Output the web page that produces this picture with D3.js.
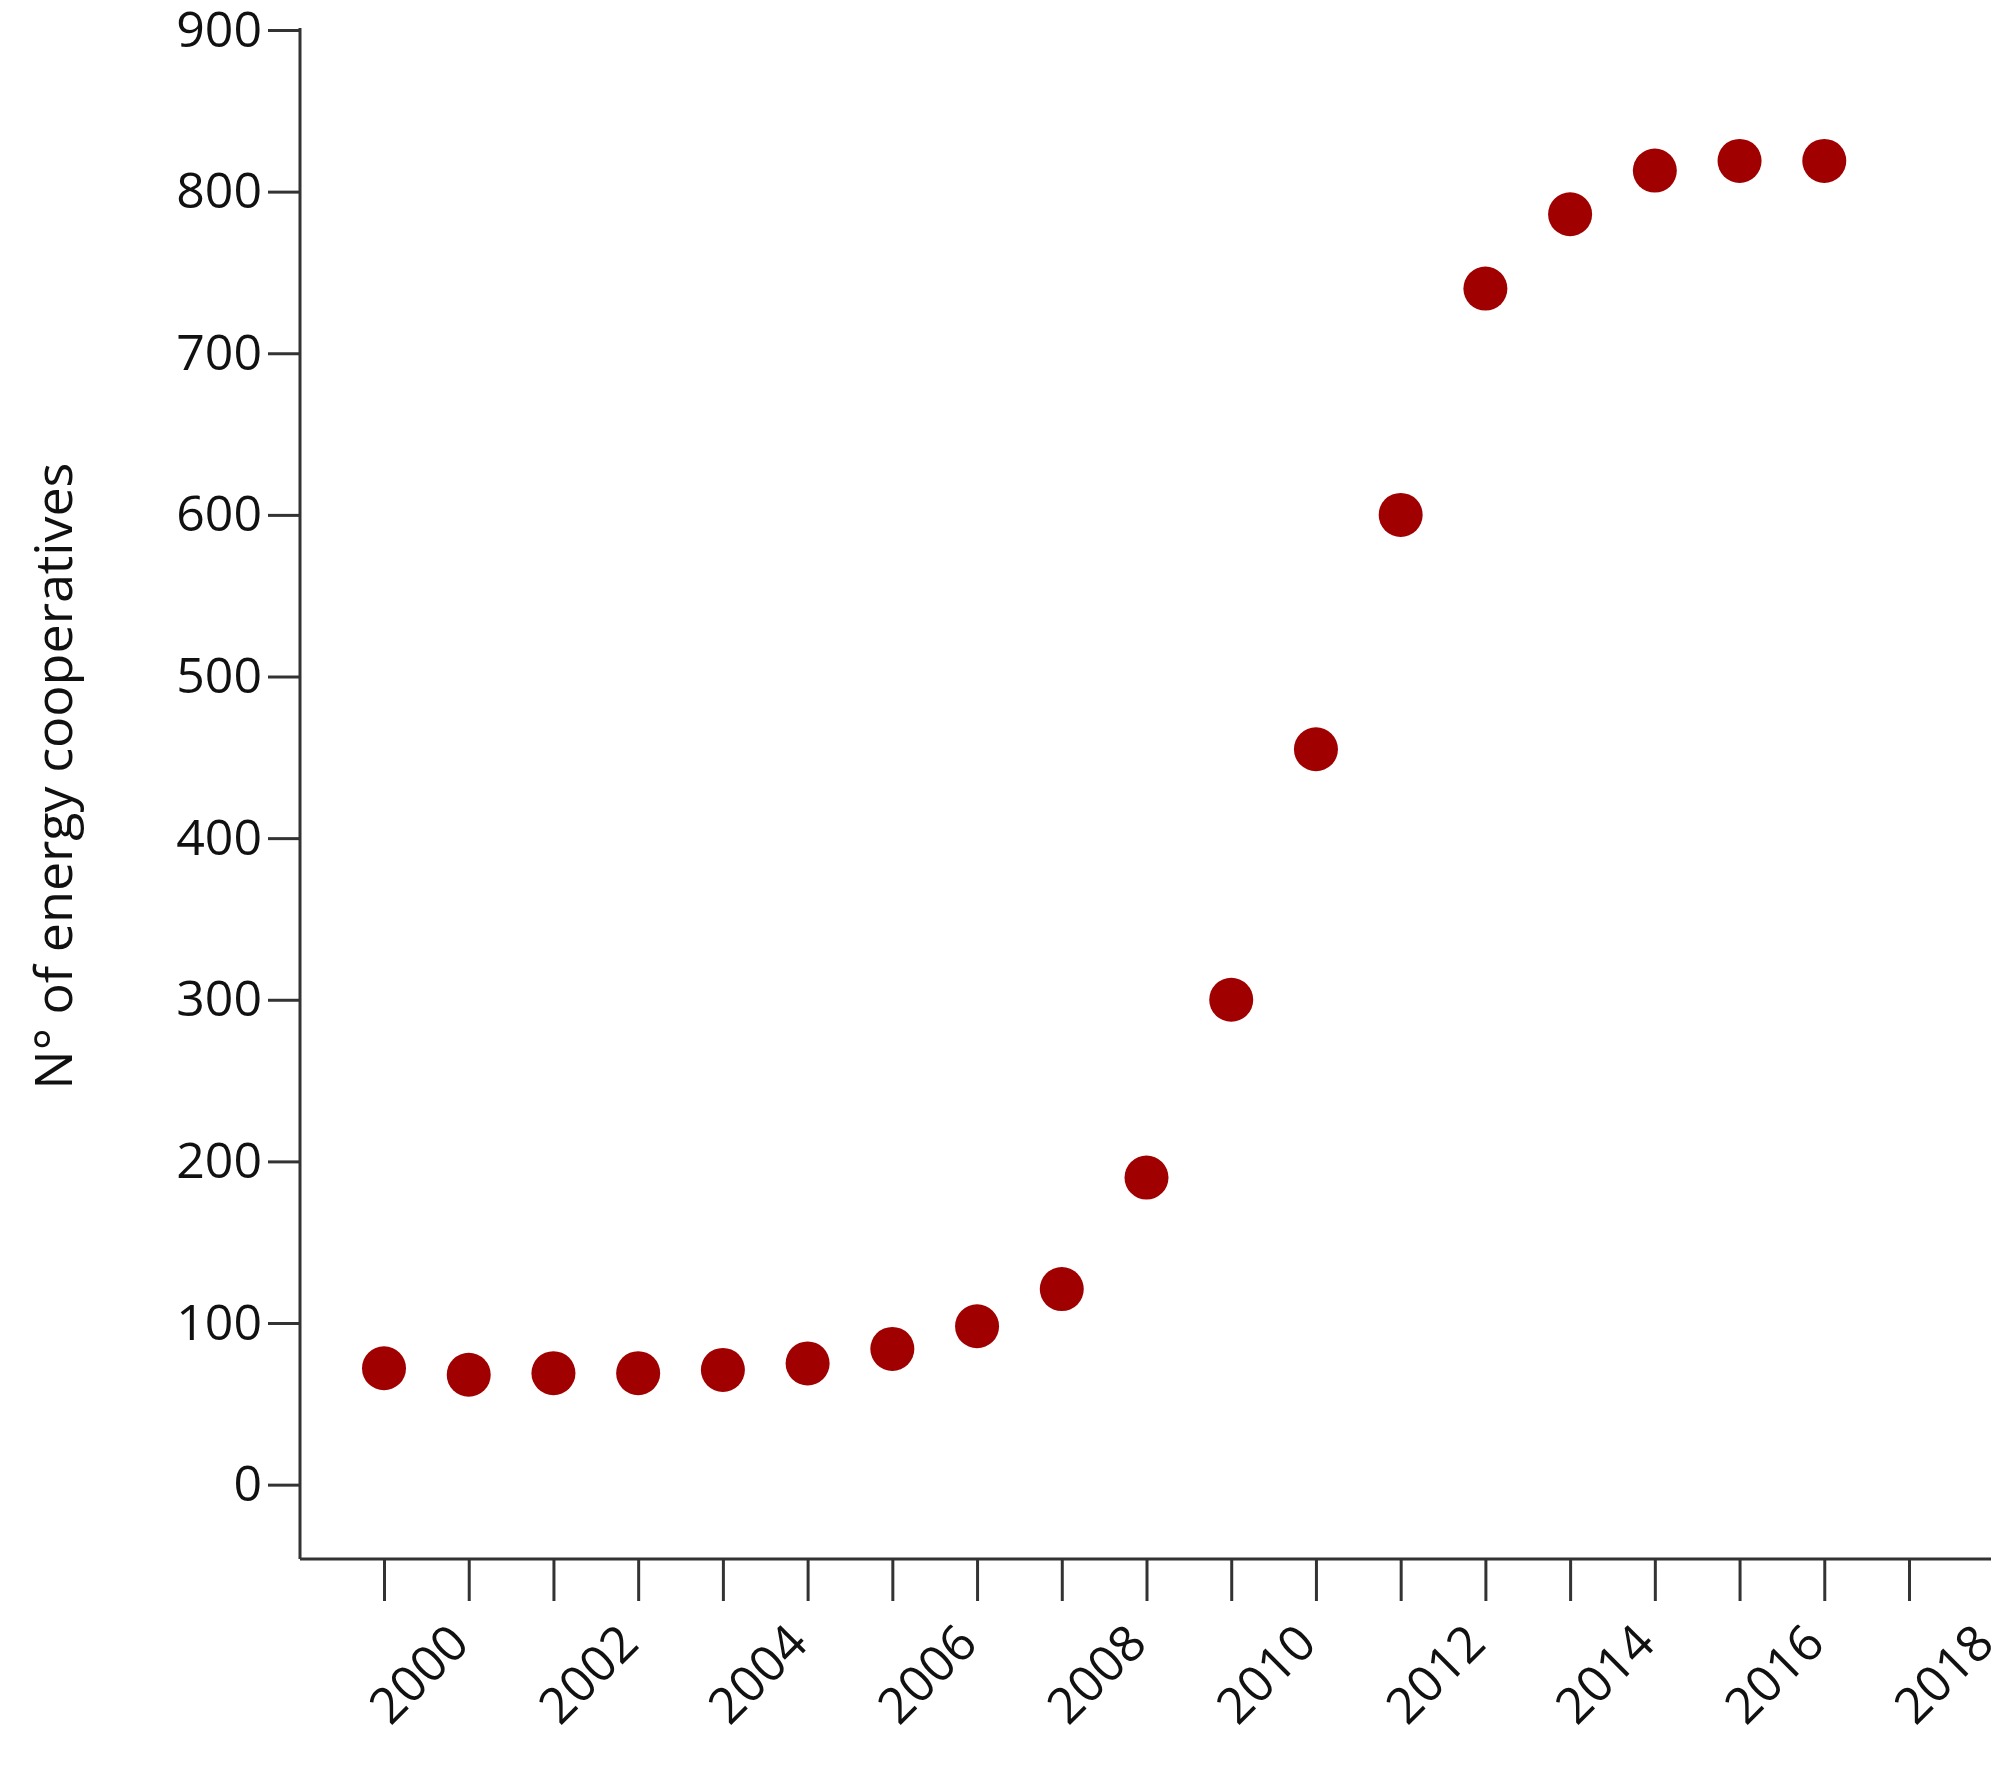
<!DOCTYPE html>
<html>
<head>
<meta charset="utf-8">
<script src="https://cdn.jsdelivr.net/npm/d3@7"></script>
<style>
  body { margin: 0; background: #fff; }
  text { font-family: "Open Sans", "Liberation Sans", sans-serif; fill: #111; }
</style>
</head>
<body>
<svg id="chart" width="2012" height="1773"></svg>
<script>
// data
const years = [2000, 2001, 2002, 2003, 2004, 2005, 2006, 2007, 2008, 2009,
               2010, 2011, 2012, 2013, 2014, 2015, 2016, 2017];
const counts = [72, 68, 69, 69, 71, 75, 84, 98, 121, 190,
                300, 455, 600, 740, 786, 813, 819, 819];
const yTicks = [0, 100, 200, 300, 400, 500, 600, 700, 800, 900];
const xTicks = d3.range(2000, 2019);

const svg = d3.select("#chart");
const plotLeft = 300, plotRight = 1991, plotTop = 28, plotBottom = 1559;

const x = d3.scaleLinear().domain([2000, 2018]).range([384, 1909]);
const y = d3.scaleLinear().domain([-46, 900]).range([plotBottom, plotTop + 2]);

// y axis
const yAxis = svg.append("g")
  .attr("transform", `translate(${plotLeft},0)`)
  .call(d3.axisLeft(y).tickValues(yTicks).tickSize(32).tickPadding(6));
yAxis.select(".domain").attr("d", `M0,${plotTop}V${plotBottom}`);

// x axis
const xAxis = svg.append("g")
  .attr("transform", `translate(0,${plotBottom})`)
  .call(d3.axisBottom(x).tickValues(xTicks).tickSize(42)
    .tickFormat(d => d % 2 === 0 ? d : ""));
xAxis.select(".domain").attr("d", `M${plotLeft},0H${plotRight}`);
xAxis.selectAll("text")
  .attr("text-anchor", "end")
  .attr("transform", "translate(30,30) rotate(-45)");

svg.selectAll(".domain, .tick line")
  .attr("stroke", "#333").attr("stroke-width", 3);
svg.selectAll(".tick text")
  .style("font-size", "50px").style("fill", "#111");

// y label
svg.append("text")
  .attr("transform", "translate(72,776) rotate(-90)")
  .attr("text-anchor", "middle")
  .style("font-size", "52px")
  .text("N° of energy cooperatives");

// points
svg.selectAll("circle.pt")
  .data(years.map((yr, i) => ({ yr, v: counts[i] })))
  .join("circle")
  .attr("class", "pt")
  .attr("cx", d => x(d.yr))
  .attr("cy", d => y(d.v))
  .attr("r", 22)
  .attr("fill", "#a00000");
</script>
</body>
</html>
